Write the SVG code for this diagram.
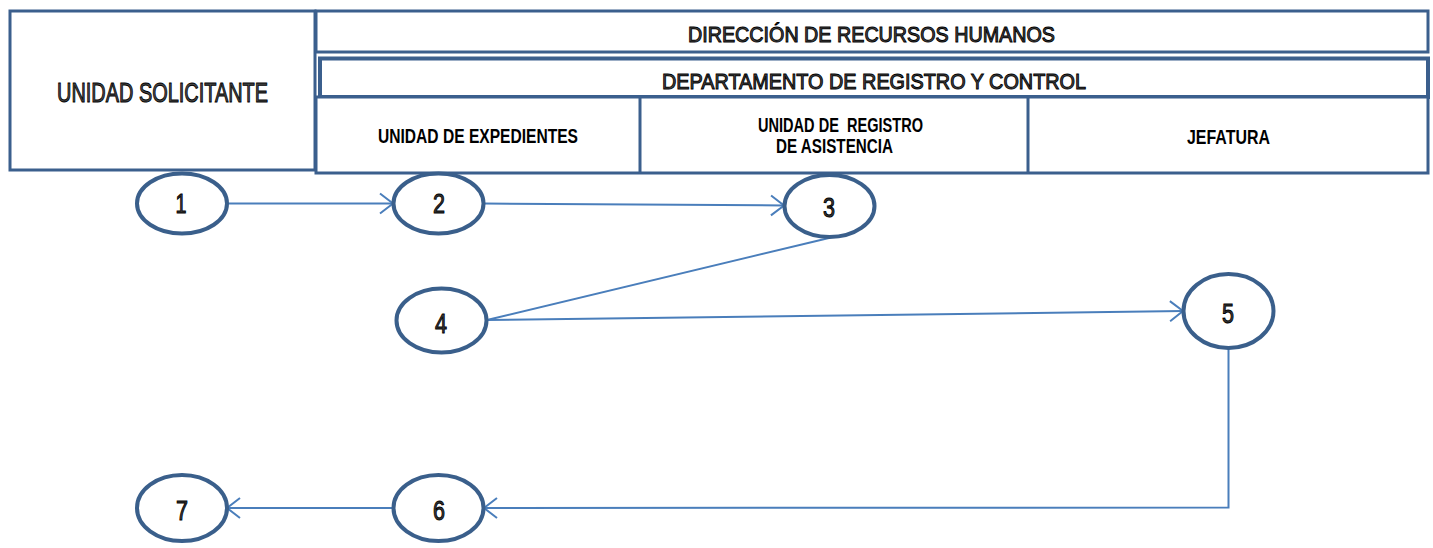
<svg xmlns="http://www.w3.org/2000/svg" width="1433" height="548" viewBox="0 0 1433 548">
<style>
.box{fill:#fff;stroke:#3B5F8D;stroke-width:3}
.div{stroke:#3B5F8D;stroke-width:3}
.node ellipse{fill:#fff;stroke:#3A5F8B;stroke-width:4}
.ol{font-family:"Liberation Sans",Arial,sans-serif;fill:#4a4a4a;stroke:#000;stroke-width:1}
.lbl{font-family:"Liberation Sans",Arial,sans-serif;font-weight:bold;fill:#000}
.num{font-family:"Liberation Sans",Arial,sans-serif;font-size:28px;text-anchor:middle;fill:#3a3a3a;stroke:#000;stroke-width:1}
.con{fill:none;stroke:#4A7EBB;stroke-width:2}
</style>
<defs>
<marker id="arr" markerUnits="userSpaceOnUse" markerWidth="30" markerHeight="30" viewBox="-15 -15 30 30" refX="0" refY="0" orient="auto">
<path d="M-13,-10 L0,0 L-13,10" fill="none" stroke="#4A7EBB" stroke-width="2"/>
</marker>
</defs>
<g id="header">
<rect class="box" x="10" y="11" width="305" height="159"/>
<rect class="box" x="316" y="11" width="1112" height="41"/>
<rect class="box" x="320" y="58.5" width="1108" height="38.5" style="stroke-width:4"/>
<rect class="box" x="316" y="97" width="1112" height="76"/>
<line class="div" x1="640" y1="97" x2="640" y2="173"/>
<line class="div" x1="1028" y1="97" x2="1028" y2="173"/>
<text class="ol" x="57" y="102" font-size="28" textLength="211" lengthAdjust="spacingAndGlyphs">UNIDAD SOLICITANTE</text>
<text class="ol" x="688" y="42" font-size="22.5" textLength="367" lengthAdjust="spacingAndGlyphs">DIRECCIÓN DE RECURSOS HUMANOS</text>
<text class="ol" x="662" y="89" font-size="22.5" textLength="424" lengthAdjust="spacingAndGlyphs">DEPARTAMENTO DE REGISTRO Y CONTROL</text>
<text class="lbl" x="378" y="143" font-size="19.5" textLength="200" lengthAdjust="spacingAndGlyphs">UNIDAD DE EXPEDIENTES</text>
<text class="lbl" x="758" y="132" font-size="19.5" textLength="165" lengthAdjust="spacingAndGlyphs" xml:space="preserve">UNIDAD DE  REGISTRO</text>
<text class="lbl" x="776" y="153" font-size="19.5" textLength="117" lengthAdjust="spacingAndGlyphs">DE ASISTENCIA</text>
<text class="lbl" x="1187" y="144" font-size="19.5" textLength="83" lengthAdjust="spacingAndGlyphs">JEFATURA</text>
</g>
<g id="connectors">
<path class="con" d="M227,203.5 L393,203.5" marker-end="url(#arr)"/>
<path class="con" d="M484,203.5 L784,205.5" marker-end="url(#arr)"/>
<path class="con" d="M829,238 L487,320"/>
<path class="con" d="M487,320 L1183,311" marker-end="url(#arr)"/>
<path class="con" d="M1228.5,348 L1228.5,507.5 L484,508" marker-end="url(#arr)"/>
<path class="con" d="M393,508 L227,508" marker-end="url(#arr)"/>
</g>
<g id="n1" class="node"><ellipse cx="182" cy="203.5" rx="45" ry="30"/><text class="num" x="181" y="213" textLength="11" lengthAdjust="spacingAndGlyphs">1</text></g>
<g id="n2" class="node"><ellipse cx="438.5" cy="203.5" rx="45" ry="30"/><text class="num" x="439" y="213" textLength="12" lengthAdjust="spacingAndGlyphs">2</text></g>
<g id="n3" class="node"><ellipse cx="829.5" cy="206" rx="45" ry="31"/><text class="num" x="829" y="217" textLength="12" lengthAdjust="spacingAndGlyphs">3</text></g>
<g id="n4" class="node"><ellipse cx="441.5" cy="320.5" rx="45" ry="32"/><text class="num" x="441" y="333" textLength="12" lengthAdjust="spacingAndGlyphs">4</text></g>
<g id="n5" class="node"><ellipse cx="1228.5" cy="311" rx="45" ry="37"/><text class="num" x="1228" y="323" textLength="12" lengthAdjust="spacingAndGlyphs">5</text></g>
<g id="n6" class="node"><ellipse cx="438.5" cy="508" rx="45" ry="33"/><text class="num" x="439" y="520" textLength="12" lengthAdjust="spacingAndGlyphs">6</text></g>
<g id="n7" class="node"><ellipse cx="182" cy="508" rx="45" ry="33"/><text class="num" x="182" y="520" textLength="12" lengthAdjust="spacingAndGlyphs">7</text></g>
</svg>
